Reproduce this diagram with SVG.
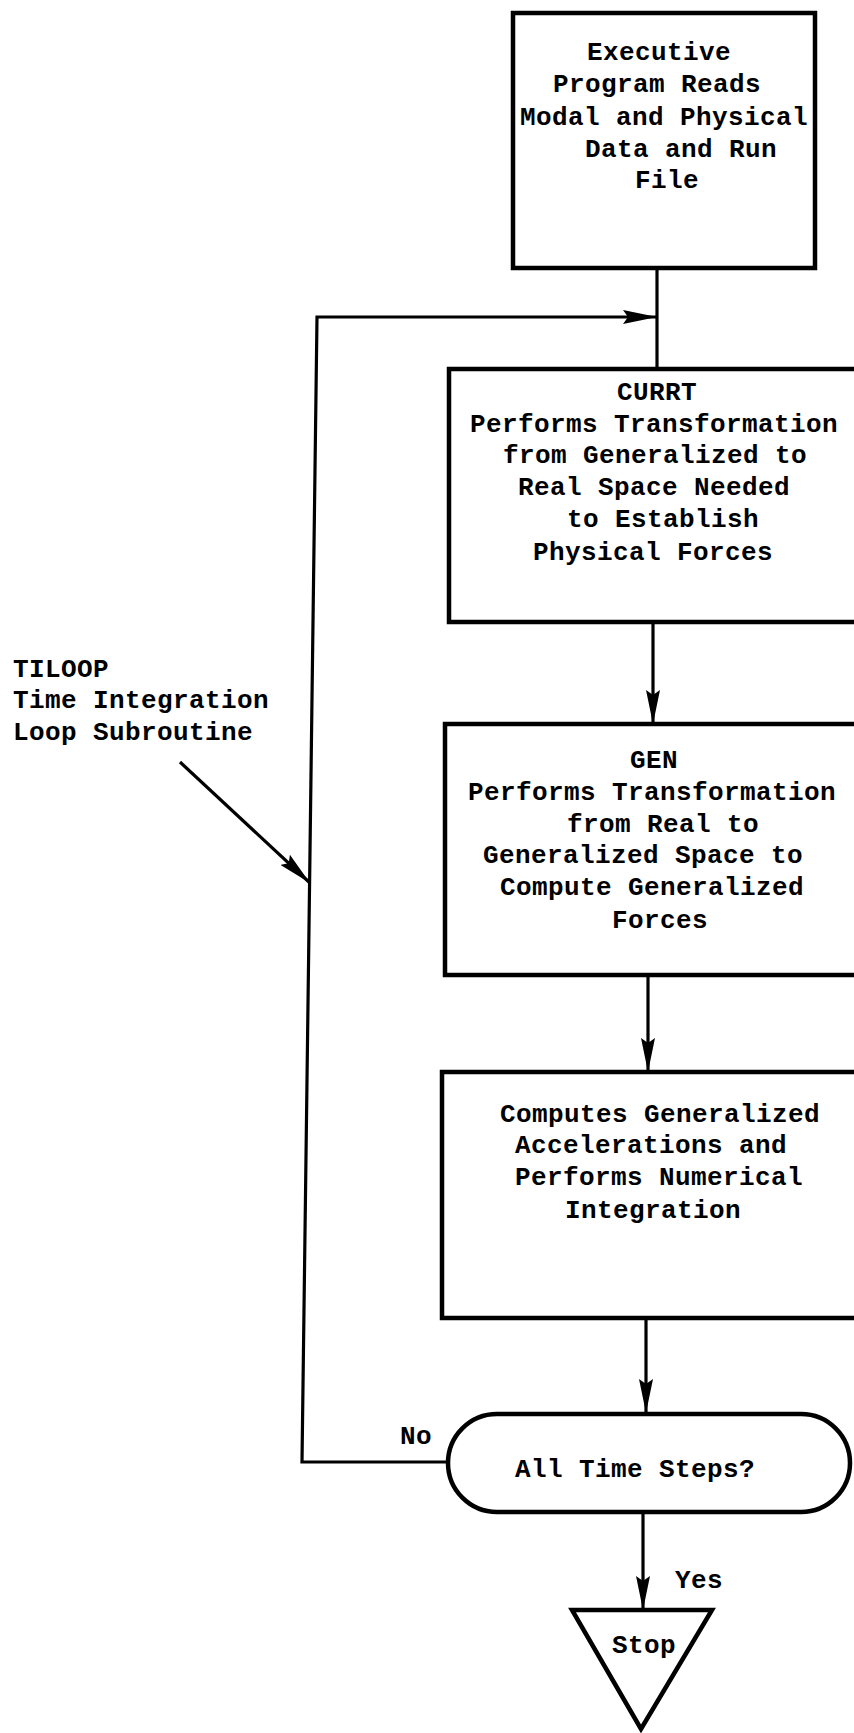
<svg xmlns="http://www.w3.org/2000/svg" width="854" height="1733" viewBox="0 0 854 1733">
<style>
.box{fill:#fff;stroke:#000;stroke-width:4.5}
.ln{fill:none;stroke:#000;stroke-width:3.2}
.t{font-family:"Liberation Mono","Courier New",monospace;font-weight:bold;font-size:26px;letter-spacing:0.4px;fill:#000}
</style>
<defs>
<marker id="ah" markerUnits="userSpaceOnUse" viewBox="0 0 34 14" refX="34" refY="7" markerWidth="34" markerHeight="14" orient="auto">
<path d="M0,0 L34,7 L0,14 L5,7 Z" fill="#000"/>
</marker>
</defs>
<rect width="854" height="1733" fill="#fff"/>
<g id="connectors">
<line class="ln" x1="657" y1="270" x2="657" y2="370"/>
<polyline class="ln" points="448,1462 302,1462 317,317 657,317" marker-end="url(#ah)"/>
<line class="ln" x1="653" y1="622" x2="653" y2="724" marker-end="url(#ah)"/>
<line class="ln" x1="648" y1="975" x2="648" y2="1072" marker-end="url(#ah)"/>
<line class="ln" x1="646" y1="1318" x2="646" y2="1413" marker-end="url(#ah)"/>
<line class="ln" x1="643" y1="1513" x2="643" y2="1610" marker-end="url(#ah)"/>
<line class="ln" x1="180" y1="762" x2="310" y2="883" marker-end="url(#ah)"/>
</g>
<g id="exec">
<rect class="box" x="513" y="13" width="302" height="255"/>
<text class="t" x="587" y="60">Executive</text>
<text class="t" x="553" y="92">Program Reads</text>
<text class="t" x="520" y="125">Modal and Physical</text>
<text class="t" x="585" y="157">Data and Run</text>
<text class="t" x="635" y="188">File</text>
</g>
<g id="currt">
<rect class="box" x="449" y="369" width="440" height="253"/>
<text class="t" x="617" y="400">CURRT</text>
<text class="t" x="470" y="432">Performs Transformation</text>
<text class="t" x="503" y="463">from Generalized to</text>
<text class="t" x="518" y="495">Real Space Needed</text>
<text class="t" x="567" y="527">to Establish</text>
<text class="t" x="533" y="560">Physical Forces</text>
</g>
<g id="gen">
<rect class="box" x="445" y="724" width="440" height="251"/>
<text class="t" x="630" y="768">GEN</text>
<text class="t" x="468" y="800">Performs Transformation</text>
<text class="t" x="567" y="832">from Real to</text>
<text class="t" x="483" y="863">Generalized Space to</text>
<text class="t" x="500" y="895">Compute Generalized</text>
<text class="t" x="612" y="928">Forces</text>
</g>
<g id="compute">
<rect class="box" x="442" y="1072" width="440" height="246"/>
<text class="t" x="500" y="1122">Computes Generalized</text>
<text class="t" x="515" y="1153">Accelerations and</text>
<text class="t" x="515" y="1185">Performs Numerical</text>
<text class="t" x="565" y="1218">Integration</text>
</g>
<g id="decision">
<rect class="box" x="448" y="1414" width="402" height="98" rx="49" ry="49"/>
<text class="t" x="515" y="1477">All Time Steps?</text>
</g>
<g id="stop">
<polygon class="box" points="572,1610 712,1610 641,1729"/>
<text class="t" x="612" y="1653">Stop</text>
</g>
<g id="labels">
<text class="t" x="400" y="1444">No</text>
<text class="t" x="675" y="1588">Yes</text>
<text class="t" x="13" y="677">TILOOP</text>
<text class="t" x="13" y="708">Time Integration</text>
<text class="t" x="13" y="740">Loop Subroutine</text>
</g>
</svg>
